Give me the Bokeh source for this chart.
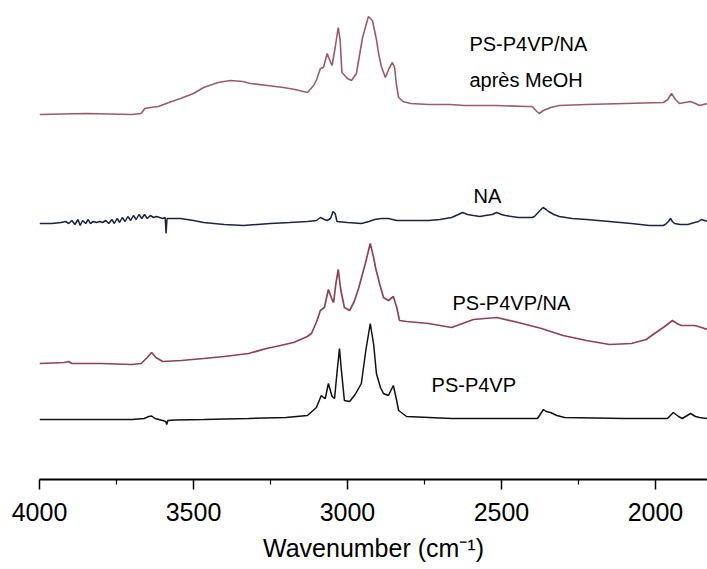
from bokeh.plotting import figure
from bokeh.models import Range1d, FixedTicker, Label
from bokeh.embed import file_html
from bokeh.resources import INLINE

# ---- data (wavenumber, relative absorbance in arbitrary stacked units) ----
top_wn = [4000, 3850, 3700, 3670, 3658, 3640, 3614, 3580, 3542, 3500, 3467, 3420, 3380, 3340,
          3315, 3260, 3208, 3170, 3130, 3110, 3100, 3088, 3078, 3066, 3056, 3050, 3040, 3030,
          3024, 3018, 3000, 2987, 2971, 2951, 2932, 2919, 2906, 2899, 2890, 2877, 2865, 2854,
          2847, 2841, 2834, 2820, 2795, 2737, 2666, 2620, 2516, 2420, 2400, 2385, 2377, 2364,
          2340, 2312, 2224, 2100, 1974, 1960, 1948, 1935, 1922, 1905, 1886, 1870, 1857, 1831]
top_ab = [365, 366, 365, 366, 371, 372, 373, 377, 381, 386, 392, 397, 399, 398,
          396, 394, 392, 390, 387, 394, 400, 411, 412, 426, 418, 414, 432, 452,
          440, 407, 401, 399, 406, 442, 463, 459, 440, 426, 413, 402, 411, 417,
          412, 395, 382, 378, 376, 375, 375, 374, 374, 373, 373, 368, 366, 369,
          372, 374, 375, 376, 377, 380, 386, 380, 376, 377, 378, 376, 374, 376]

na_wn = [4000, 3960, 3930, 3915, 3905, 3895, 3885, 3875, 3868, 3860, 3850, 3842, 3835, 3825,
         3815, 3805, 3795, 3785, 3775, 3765, 3757, 3748, 3740, 3731, 3722, 3713, 3704, 3695,
         3686, 3677, 3668, 3659, 3650, 3640, 3630, 3620, 3610, 3600, 3592, 3589, 3586, 3570,
         3542, 3500, 3467, 3400, 3337, 3250, 3188, 3130, 3101, 3088, 3075, 3066, 3055, 3047,
         3040, 3034, 3000, 2955, 2930, 2912, 2890, 2867, 2840, 2808, 2737, 2700, 2662, 2640,
         2627, 2610, 2591, 2570, 2552, 2530, 2516, 2500, 2487, 2445, 2400, 2393, 2375, 2365,
         2355, 2347, 2330, 2312, 2270, 2224, 2150, 2078, 2020, 1975, 1968, 1958, 1951, 1945,
         1938, 1920, 1895, 1873, 1860, 1851, 1840, 1831]
na_ab = [256, 256, 257, 258, 256, 259, 255, 260, 254, 259, 256, 260, 256, 258,
         257, 258, 257, 259, 256, 260, 256, 261, 257, 262, 258, 263, 259, 264,
         260, 265, 261, 265, 261, 264, 262, 263, 262, 261, 262, 246, 261, 261,
         261, 259, 257, 255, 254, 256, 257, 258, 259, 262, 260, 259, 261, 268,
         266, 258, 257, 256, 258, 260, 261, 261, 259, 259, 259, 260, 262, 265,
         267, 265, 264, 263, 264, 265, 267, 265, 264, 262, 262, 263, 269, 272,
         270, 268, 265, 263, 261, 260, 258, 256, 254, 254, 255, 258, 261, 258,
         256, 255, 255, 257, 258, 260, 259, 258]

mix_wn = [4000, 3920, 3905, 3895, 3800, 3700, 3670, 3650, 3636, 3622, 3600, 3540, 3467, 3400,
          3321, 3263, 3218, 3175, 3130, 3117, 3100, 3088, 3075, 3062, 3050, 3045, 3038, 3030,
          3022, 3010, 2993, 2978, 2964, 2942, 2926, 2915, 2909, 2895, 2883, 2867, 2851, 2840,
          2831, 2808, 2737, 2662, 2591, 2516, 2445, 2370, 2300, 2224, 2149, 2078, 2030, 2003,
          1970, 1945, 1930, 1916, 1873, 1850, 1831]
mix_ab = [116, 117, 118, 116, 116, 115, 116, 122, 127, 122, 118, 119, 121, 123,
          126, 131, 134, 137, 143, 146, 158, 169, 172, 190, 180, 177, 195, 210,
          190, 172, 169, 178, 191, 216, 236, 222, 212, 195, 182, 179, 183, 172,
          159, 158, 156, 152, 160, 162, 157, 151, 144, 139, 135, 136, 140, 146,
          153, 159, 156, 154, 154, 152, 150]

ps_wn = [4000, 3700, 3660, 3645, 3636, 3625, 3600, 3590, 3587, 3583, 3560, 3467, 3321, 3200,
         3130, 3101, 3085, 3078, 3072, 3062, 3050, 3042, 3033, 3026, 3020, 3010, 2993, 2975,
         2955, 2940, 2926, 2915, 2906, 2893, 2883, 2867, 2851, 2841, 2834, 2808, 2662, 2450,
         2383, 2370, 2364, 2355, 2341, 2320, 2295, 2100, 1961, 1942, 1925, 1913, 1886, 1870,
         1857, 1831]
ps_ab = [60, 60, 61, 63, 63.5, 61, 59, 58, 55, 59, 59.5, 60, 61, 62,
         64, 72, 84, 82, 81, 96, 83, 81, 110, 131, 110, 79, 78, 85,
         96, 130, 156, 135, 106, 92, 86, 84, 94, 80, 69, 63, 61, 61,
         61, 67, 70, 68, 67, 64, 62, 61, 61, 67, 63, 61, 66, 63,
         62, 61]

x_ticks = [4000, 3500, 3000, 2500, 2000]
x_minor = [3750, 3250, 2750, 2250]

labels = ["PS-P4VP/NA", "après MeOH", "NA", "PS-P4VP/NA", "PS-P4VP"]
label_wn = [2604, 2604, 2591, 2659, 2727]
label_ab = [436, 400, 284, 177, 95]

FONT = "Liberation Sans"

p = figure(width=707, height=569, x_range=Range1d(4000, 1831), y_range=Range1d(0, 479),
           output_backend="svg", toolbar_location=None, y_axis_location=None,
           min_border_left=39, min_border_right=0, min_border_top=0, min_border_bottom=90)
p.outline_line_color = None
p.xgrid.grid_line_color = None
p.ygrid.grid_line_color = None
p.background_fill_color = "white"
p.border_fill_color = "white"

p.line(top_wn, top_ab, line_color="#9a5b6b", line_width=1.6)
p.line(na_wn, na_ab, line_color="#1c2348", line_width=1.5)
p.line(mix_wn, mix_ab, line_color="#8e4257", line_width=1.7)
p.line(ps_wn, ps_ab, line_color="#111111", line_width=1.5)

ax = p.xaxis[0]
ax.ticker = FixedTicker(ticks=x_ticks, minor_ticks=x_minor)
ax.axis_line_width = 2
ax.axis_line_color = "black"
ax.major_tick_in = 0
ax.major_tick_out = 10
ax.major_tick_line_width = 1.5
ax.minor_tick_in = 0
ax.minor_tick_out = 5
ax.minor_tick_line_width = 1.2
ax.major_label_text_font = FONT
ax.major_label_text_font_size = "25px"
ax.major_label_text_color = "black"
ax.major_label_standoff = 13
ax.axis_label = "Wavenumber (cm\u207b\u00b9)"
ax.axis_label_text_font = FONT
ax.axis_label_text_font_size = "25px"
ax.axis_label_text_font_style = "normal"
ax.axis_label_text_color = "black"
ax.axis_label_standoff = 10

for t, xw, ya in zip(labels, label_wn, label_ab):
    p.add_layout(Label(x=xw, y=ya, text=t, text_font=FONT, text_font_size="20px",
                       text_baseline="middle", text_align="left", text_color="black"))

open("out.html", "w").write(file_html(p, INLINE))
